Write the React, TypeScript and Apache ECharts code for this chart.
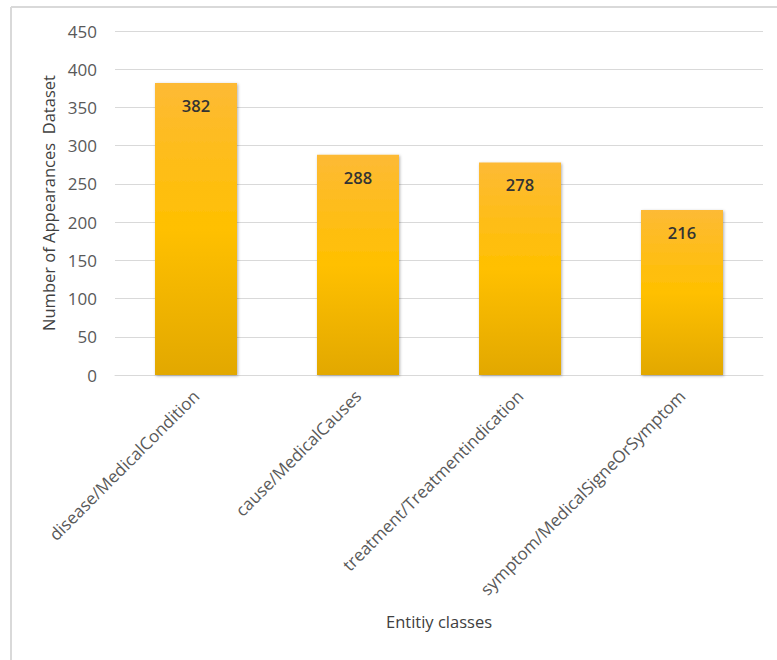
import React, { useEffect, useRef } from "react";
import * as echarts from "echarts";

const categories = [
  "disease/MedicalCondition",
  "cause/MedicalCauses",
  "treatment/Treatmentindication",
  "symptom/MedicalSigneOrSymptom",
];
const values = [382, 288, 278, 216];
const yTicks = { min: 0, max: 450, interval: 50 };

export default function App() {
  const ref = useRef<HTMLDivElement>(null);
  useEffect(() => {
    if (!ref.current) return;
    const chart = echarts.init(ref.current, null, { renderer: "svg" });
    const font = "'Open Sans', Calibri, sans-serif";
    chart.setOption({
      animation: false,
      backgroundColor: "#ffffff",
      textStyle: { fontFamily: font },
      graphic: [
        { type: "line", shape: { x1: 11, y1: 7, x2: 777, y2: 7 }, style: { stroke: "#D9D9D9", lineWidth: 2 } },
        { type: "line", shape: { x1: 11, y1: 7, x2: 11, y2: 660 }, style: { stroke: "#D9D9D9", lineWidth: 2 } },
      ],
      grid: { left: 115, right: 14, top: 31, bottom: 285 },
      xAxis: {
        type: "category",
        data: categories,
        name: "Entitiy classes",
        nameLocation: "middle",
        nameGap: 238,
        nameTextStyle: { color: "#404040", fontSize: 16.5, fontFamily: font },
        axisLine: { lineStyle: { color: "#D9D9D9" } },
        axisTick: { show: false },
        axisLabel: {
          rotate: 45,
          interval: 0,
          margin: 18,
          color: "#595959",
          fontSize: 17,
          fontFamily: font,
        },
      },
      yAxis: {
        type: "value",
        min: yTicks.min,
        max: yTicks.max,
        interval: yTicks.interval,
        name: "Number of Appearances  Dataset",
        nameLocation: "middle",
        nameGap: 57,
        nameTextStyle: { color: "#404040", fontSize: 16.5, fontFamily: font },
        axisLine: { show: false },
        axisTick: { show: false },
        axisLabel: { color: "#595959", fontSize: 17, margin: 18, fontFamily: font },
        splitLine: { lineStyle: { color: "#D9D9D9", width: 1 } },
      },
      series: [
        {
          type: "bar",
          data: values,
          barWidth: 82,
          itemStyle: {
            color: new echarts.graphic.LinearGradient(0, 0, 0, 1, [
              { offset: 0, color: "#FDBA35" },
              { offset: 0.5, color: "#FFC000" },
              { offset: 1, color: "#E2A800" },
            ]),
            shadowBlur: 3,
            shadowColor: "rgba(0,0,0,0.3)",
            shadowOffsetX: 1,
            shadowOffsetY: 1,
          },
          label: {
            show: true,
            position: "insideTop",
            distance: 14,
            color: "#333333",
            fontSize: 16.5,
            fontWeight: 600,
            fontFamily: font,
          },
        },
      ],
    });
    return () => chart.dispose();
  }, []);
  return (
    <div
      ref={ref}
      style={{ position: "fixed", left: 0, top: 0, width: 777, height: 660 }}
    />
  );
}
